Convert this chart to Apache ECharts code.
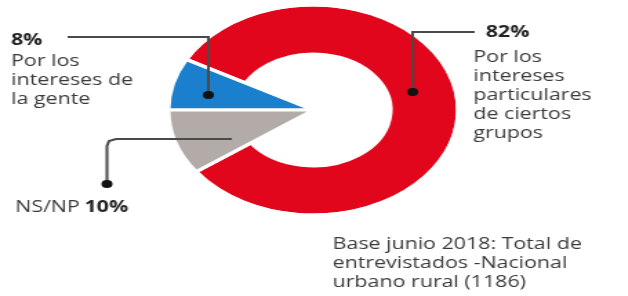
<!DOCTYPE html>
<html>
<head>
<meta charset="utf-8">
<script src="https://cdn.jsdelivr.net/npm/echarts@6/dist/echarts.min.js"></script>
<style>
    html, body { margin: 0; padding: 0; background: #fff; overflow: hidden; }
    /* the reference picture is stretched sideways, so the chart is drawn narrow and widened */
    #main { width: 455px; height: 296px; transform: scaleX(1.38); transform-origin: 0 0; }
</style>
</head>
<body>
<div id="main"></div>
<script>
var names = ['Por los intereses de la gente', 'Por los intereses particulares de ciertos grupos', 'NS/NP'];
var values = [8, 82, 10];
var colors = ['#1a7fcc', '#e1061b', '#b3aba7'];
var footnote = ['Base junio 2018: Total de', 'entrevistados -Nacional', 'urbano rural (1186)'];

var chart = echarts.init(document.getElementById('main'));

// red is a ring, blue and grey are full wedges
var ringData = [], wedgeData = [];
for (var i = 0; i < names.length; i++) {
    var isRing = i == 1;
    ringData.push({
        name: names[i], value: values[i],
        itemStyle: isRing ? {color: colors[i], borderColor: '#fff', borderWidth: 3} : {color: 'rgba(0,0,0,0)', borderWidth: 0}
    });
    wedgeData.push({
        name: names[i], value: values[i],
        itemStyle: {color: isRing ? 'rgba(0,0,0,0)' : colors[i], borderColor: '#fff', borderWidth: 3}
    });
}

var txt = '#3a3a3a';
var lineCol = '#4a4a4a';
var font = '15.5px "Open Sans"';
var bold = 'bold 15.5px "Open Sans"';

var option = {
    animation: false,
    series: [
        {
            type: 'pie', center: [227, 110], radius: [56, 105],
            startAngle: 180, clockwise: true, silent: true,
            label: {show: false}, labelLine: {show: false},
            data: ringData
        },
        {
            type: 'pie', center: [227, 110], radius: [0, 105],
            startAngle: 180, clockwise: true, silent: true,
            label: {show: false}, labelLine: {show: false},
            data: wedgeData
        }
    ],
    graphic: [
        // 8%
        {type: 'polyline', shape: {points: [[49, 37], [151, 37], [151, 95]]}, style: {stroke: lineCol, lineWidth: 2, fill: null}, z: 10},
        {type: 'circle', shape: {cx: 151, cy: 95, r: 4}, style: {fill: '#111'}, z: 11},
        {type: 'text', x: 8, y: 33, style: {text: values[0] + '%', font: bold, fill: '#222'}, z: 10},
        {type: 'text', x: 8, y: 52, style: {text: 'Por los\nintereses de\nla gente', font: font, fill: txt, lineHeight: 19}, z: 10},
        // 82%
        {type: 'polyline', shape: {points: [[344, 32], [299, 32], [299, 92]]}, style: {stroke: lineCol, lineWidth: 2, fill: null}, z: 10},
        {type: 'circle', shape: {cx: 299, cy: 92, r: 4}, style: {fill: '#111'}, z: 11},
        {type: 'text', x: 352, y: 25, style: {text: values[1] + '%', font: bold, fill: '#222'}, z: 10},
        {type: 'text', x: 343, y: 48, style: {text: 'Por los\nintereses\nparticulares\nde ciertos\ngrupos', font: font, fill: txt, lineHeight: 19}, z: 10},
        // NS/NP
        {type: 'polyline', shape: {points: [[168, 139], [84, 139], [79, 141], [77.5, 146], [77.5, 184]]}, style: {stroke: lineCol, lineWidth: 2, fill: null}, z: 10},
        {type: 'circle', shape: {cx: 77.5, cy: 184, r: 4}, style: {fill: '#111'}, z: 11},
        {type: 'text', x: 11, y: 200, style: {
            text: '{a|NS/NP} {b|' + values[2] + '%}',
            rich: {a: {font: font, fill: txt}, b: {font: bold, fill: '#222'}}
        }, z: 10},
        // footnote
        {type: 'text', x: 241, y: 235, style: {text: footnote.join('\n'), font: font, fill: txt, lineHeight: 19}, z: 10}
    ]
};

chart.setOption(option);
</script>
</body>
</html>
